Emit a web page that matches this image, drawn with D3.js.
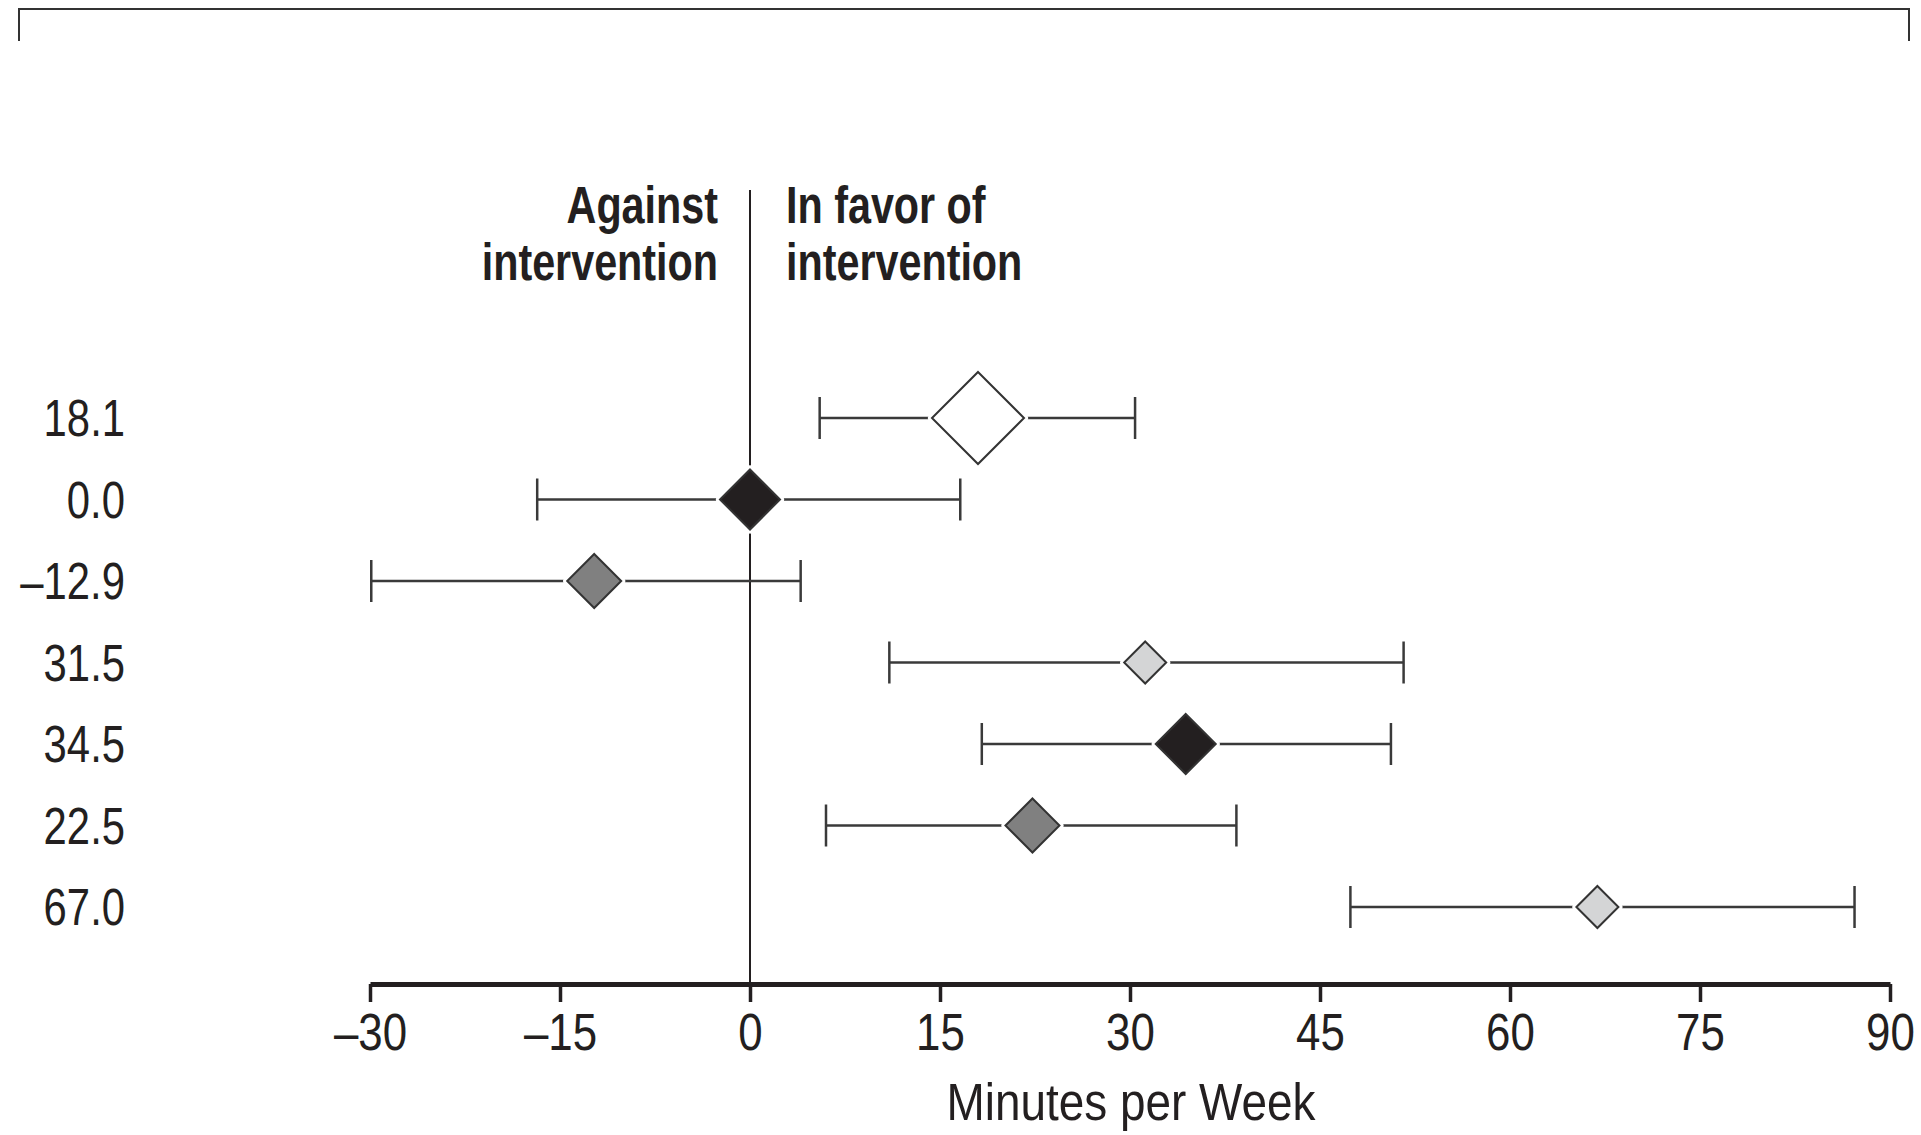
<!DOCTYPE html>
<html>
<head>
<meta charset="utf-8">
<script src="https://cdn.jsdelivr.net/npm/d3@7"></script>
<style>
  body { margin: 0; background: #fff; }
  text { font-family: "Liberation Sans", Arial, sans-serif; fill: #231f20; }
</style>
</head>
<body>
<svg id="forest" width="1921" height="1135"></svg>
<script>
// values (minutes per week)
const rowLabels = ["18.1", "0.0", "\u201312.9", "31.5", "34.5", "22.5", "67.0"];
const effects = [18.0, 0.0, -12.3, 31.2, 34.4, 22.3, 66.9];
const ciLow = [5.5, -16.8, -29.9, 11.0, 18.3, 6.0, 47.4];
const ciHigh = [30.4, 16.6, 4.0, 51.6, 50.6, 38.4, 87.2];
const groups = ["overall", "g1", "g2", "g3", "g1", "g2", "g3"];
const xTicks = [-30, -15, 0, 15, 30, 45, 60, 75, 90];
const axisTitle = "Minutes per Week";
const leftHeader = ["Against", "intervention"];
const rightHeader = ["In favor of", "intervention"];

const rows = rowLabels.map((label, i) => ({
  i, label, est: effects[i], lo: ciLow[i], hi: ciHigh[i], group: groups[i]
}));

const svg = d3.select("#forest");
const ink = "#231f20";

const x = d3.scaleLinear().domain([-30, 90]).range([370, 1890]);
const y = d3.scalePoint().domain(d3.range(rows.length)).range([418, 907]);

const fill = d3.scaleOrdinal()
  .domain(["overall", "g1", "g2", "g3"])
  .range(["#ffffff", "#231f20", "#808080", "#d4d5d6"]);
const half = d3.scaleOrdinal()
  .domain(["overall", "g1", "g2", "g3"])
  .range([46, 30, 27, 21]);

// condensed look: squeeze Liberation Sans horizontally
const squeeze = (sel, s) =>
  sel.attr("transform", function () {
    const tx = +this.getAttribute("x") || 0, ty = +this.getAttribute("y") || 0;
    this.setAttribute("x", 0);
    this.setAttribute("y", 0);
    return `translate(${tx},${ty}) scale(${s},1)`;
  });

// top bracket
svg.append("path")
  .attr("d", "M19,41V9H1909V41")
  .attr("fill", "none")
  .attr("stroke", "#333")
  .attr("stroke-width", 2);

// zero line
svg.append("line")
  .attr("x1", x(0)).attr("x2", x(0))
  .attr("y1", 190).attr("y2", 984)
  .attr("stroke", ink)
  .attr("stroke-width", 2);

// headers
const hdr = svg.append("g").attr("font-weight", "bold").attr("font-size", 51);
leftHeader.forEach((t, k) => {
  hdr.append("text")
    .attr("x", x(0) - 32).attr("y", 223 + k * 57)
    .attr("text-anchor", "end")
    .text(t)
    .call(squeeze, 0.81);
});
rightHeader.forEach((t, k) => {
  hdr.append("text")
    .attr("x", x(0) + 36).attr("y", 223 + k * 57)
    .text(t)
    .call(squeeze, 0.81);
});

// row labels
svg.append("g")
  .selectAll("text")
  .data(rows)
  .join("text")
  .attr("x", 125)
  .attr("y", d => y(d.i) + 18)
  .attr("text-anchor", "end")
  .attr("font-size", 51)
  .text(d => d.label)
  .call(squeeze, 0.82);

// error bars
const bars = svg.append("g")
  .attr("stroke", "#3a3a3a")
  .attr("stroke-width", 2.5);

bars.selectAll(".ci")
  .data(rows)
  .join("line")
  .attr("class", "ci")
  .attr("x1", d => x(d.lo)).attr("x2", d => x(d.hi))
  .attr("y1", d => y(d.i)).attr("y2", d => y(d.i));

bars.selectAll(".cap-lo")
  .data(rows)
  .join("line")
  .attr("class", "cap-lo")
  .attr("x1", d => x(d.lo)).attr("x2", d => x(d.lo))
  .attr("y1", d => y(d.i) - 21).attr("y2", d => y(d.i) + 21);

bars.selectAll(".cap-hi")
  .data(rows)
  .join("line")
  .attr("class", "cap-hi")
  .attr("x1", d => x(d.hi)).attr("x2", d => x(d.hi))
  .attr("y1", d => y(d.i) - 21).attr("y2", d => y(d.i) + 21);

// diamonds
const diamond = d => {
  const cx = x(d.est), cy = y(d.i), h = half(d.group);
  return `M${cx},${cy - h}L${cx + h},${cy}L${cx},${cy + h}L${cx - h},${cy}Z`;
};

svg.append("g")
  .selectAll("path")
  .data(rows)
  .join("path")
  .attr("d", diamond)
  .attr("fill", "#fff")
  .attr("stroke", "#fff")
  .attr("stroke-width", 8)
  .attr("stroke-linejoin", "round");

svg.append("g")
  .selectAll("path")
  .data(rows)
  .join("path")
  .attr("d", diamond)
  .attr("fill", d => fill(d.group))
  .attr("stroke", "#333")
  .attr("stroke-width", 2);

// x axis
const axis = svg.append("g")
  .attr("transform", "translate(0,984)")
  .attr("font-family", null)
  .call(d3.axisBottom(x)
    .tickValues(xTicks)
    .tickSize(18)
    .tickSizeOuter(0)
    .tickPadding(12)
    .tickFormat(d => (d < 0 ? "\u2013" + Math.abs(d) : String(d))));

axis.select(".domain")
  .attr("stroke", ink)
  .attr("stroke-width", 5);
axis.selectAll(".tick line")
  .attr("stroke", ink)
  .attr("stroke-width", 3.5);
axis.selectAll(".tick text")
  .attr("font-size", 51)
  .attr("fill", ink)
  .attr("transform", "scale(0.86,1)");
axis.attr("font-family", null);

svg.append("text")
  .attr("x", 1131)
  .attr("y", 1120)
  .attr("text-anchor", "middle")
  .attr("font-size", 51)
  .text(axisTitle)
  .call(squeeze, 0.9);
</script>
</body>
</html>
